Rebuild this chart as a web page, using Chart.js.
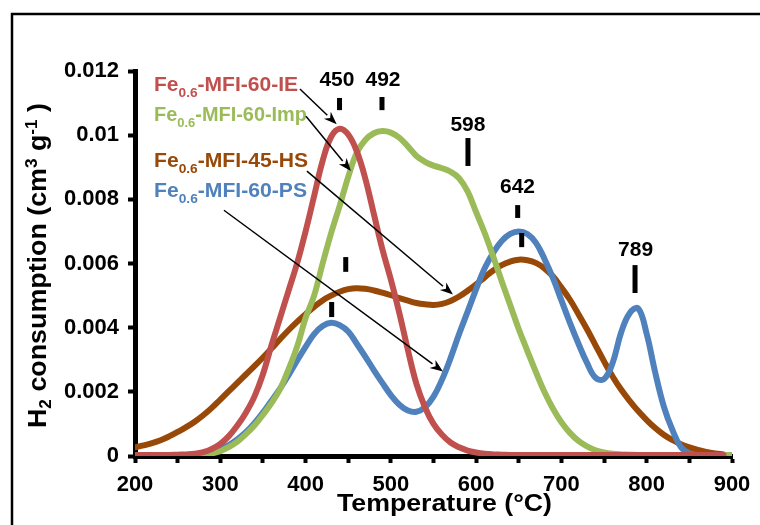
<!DOCTYPE html>
<html><head><meta charset="utf-8">
<script src="https://cdn.jsdelivr.net/npm/chart.js@4.4.1/dist/chart.umd.min.js"></script>
<style>html,body{margin:0;padding:0;background:#fff;}#wrap{width:760px;height:525px;}</style>
</head><body><div id="wrap"><canvas id="c" width="760" height="525"></canvas></div>
<script>
// Temperature (°C)
const temperatures = [200,210,220,230,240,250,260,270,280,290,300,310,320,330,340,350,360,370,380,390,400,410,420,430,440,450,460,470,480,490,500,510,520,530,540,550,560,570,580,590,600,610,620,630,640,650,660,670,680,690,700,710,720,730,740,750,760,770,780,790,800,810,820,830,840,850,860,870,880,890,900];
// H2 consumption (cm3 g-1)
const seriesIE = [0.00003,0.00003,0.00003,0.00003,0.00003,0.00004,0.00005,0.00007,0.00012,0.00022,0.00038,0.00062,0.00095,0.00135,0.00185,0.00255,0.00345,0.0043,0.00515,0.006,0.007,0.0081,0.0092,0.00995,0.0102,0.01002,0.0095,0.00865,0.00755,0.00645,0.0055,0.00445,0.0033,0.00225,0.00152,0.001,0.00066,0.00042,0.00027,0.00017,0.00011,0.00007,0.00005,0.00004,0.00003,0.00003,0.00003,0.00003,0.00003,0.00003,0.00003,0.00003,0.00003,0.00003,0.00003,0.00003,0.00003,0.00003,0.00003,0.00003,0.00003,0.00003,0.00003,0.00003,0.00003,0.00003,0.00003,0.00003,0.00003,0.00003,null];
const seriesImp = [0,0,0,0.000005,0.00001,0.000015,0.00002,0.00003,0.00005,0.00008,0.00015,0.00028,0.00045,0.00068,0.00095,0.00128,0.00165,0.00208,0.0027,0.0034,0.0043,0.005,0.006,0.00695,0.0078,0.0087,0.00945,0.00985,0.01006,0.01013,0.01008,0.00992,0.00965,0.00935,0.00917,0.00905,0.00897,0.00886,0.00866,0.00825,0.0076,0.00695,0.00622,0.00545,0.0047,0.00395,0.00328,0.00262,0.002,0.00148,0.00105,0.00072,0.00047,0.0003,0.00018,0.00011,0.00007,0.00005,0.00004,0.00003,0.00003,0.00003,0.00003,0.00003,0.00003,0.00003,0.00003,0.00003,0.00003,0.00003,0.00003];
const seriesHS = [0.00027,0.00033,0.0004,0.00049,0.00061,0.00075,0.0009,0.00107,0.00127,0.0015,0.00176,0.00202,0.00228,0.00254,0.0028,0.00307,0.00335,0.00364,0.00392,0.00418,0.00442,0.00465,0.00485,0.005,0.00512,0.0052,0.00523,0.00521,0.00516,0.00509,0.00501,0.00492,0.00484,0.00477,0.00473,0.00471,0.00474,0.00483,0.00497,0.00515,0.00535,0.00557,0.00578,0.00595,0.00606,0.00612,0.0061,0.00602,0.00585,0.0056,0.00525,0.00487,0.00442,0.00395,0.00345,0.00295,0.00248,0.00207,0.00172,0.0014,0.00112,0.00087,0.00066,0.0005,0.00037,0.00027,0.00019,0.00013,0.00008,0.00005,null];
const seriesPS = [0,0,0,0.000005,0.00001,0.000015,0.000025,0.00004,0.00007,0.00013,0.00022,0.00034,0.00052,0.00074,0.00102,0.00135,0.00172,0.0021,0.00252,0.00297,0.0034,0.0038,0.00405,0.00415,0.00408,0.00388,0.0035,0.0031,0.00268,0.00228,0.0019,0.0016,0.00142,0.00138,0.00152,0.00185,0.00238,0.00305,0.0038,0.0045,0.0052,0.00585,0.00633,0.0067,0.00692,0.007,0.00692,0.00665,0.00615,0.00555,0.00485,0.00415,0.0035,0.0029,0.00244,0.0024,0.0029,0.00385,0.00445,0.0046,0.0038,0.0026,0.00155,0.00082,0.00028,0.00008,0.00003,0.00002,0.00002,0.00002,0.00002];
const xTickValues = [200,300,400,500,600,700,800,900];
const yTickValues = [0,0.002,0.004,0.006,0.008,0.01,0.012];
const seriesNames = [['Fe','0.6','-MFI-60-IE'],['Fe','0.6','-MFI-60-Imp'],['Fe','0.6','-MFI-45-HS'],['Fe','0.6','-MFI-60-PS']];
const seriesColors = ['#C0504D','#9BBB59','#984807','#4F81BD'];
// peak labels: [temperature position, value position, text]
const peakLabels = [[436.8,0.01172,'450'],[490.8,0.01172,'492'],[590.4,0.01032,'598'],[648.5,0.00837,'642'],[786.9,0.00642,'789']];
// peak markers: [temperature, value top, value bottom]
const peakMarks = [[439.8,0.01116,0.01078],[489.6,0.01119,0.01078],[590.4,0.00991,0.00904],[648.7,0.00782,0.00742],[653.4,0.00695,0.00651],[786.3,0.00595,0.00508],[447.1,0.0062,0.00574],[430.6,0.0048,0.00433]];
// arrows from legend text to curves: [t0,v0,t1,v1]
const arrows = [[393.4,0.01144,436.5,0.01034],[400.5,0.01059,453.2,0.00888],[401.6,0.00888,572.8,0.00503],[304.3,0.00766,561.1,0.00263]];

const FONT = "'Liberation Sans', Arial, Helvetica, sans-serif";
const mk = arr => temperatures.map((t,i)=>({x:t,y:arr[i]}));
const seriesData = [seriesIE, seriesImp, seriesPS, seriesHS];
const seriesCol = [seriesColors[0], seriesColors[1], seriesColors[3], seriesColors[2]];

function drawSegs(ctx, segs, target) {
  let w = 0;
  segs.forEach(s => { ctx.font = 'bold ' + s[1] + 'px ' + FONT; w += ctx.measureText(s[0]).width; });
  const k = target ? target / w : 1;
  ctx.save();
  ctx.scale(k, 1);
  let x = 0;
  segs.forEach(s => { ctx.font = 'bold ' + s[1] + 'px ' + FONT; ctx.fillText(s[0], x, s[2] || 0); x += ctx.measureText(s[0]).width; });
  ctx.restore();
  return w * k;
}

const annot = {
  id: 'annot',
  afterDraw(chart) {
    const ctx = chart.ctx, xs = chart.scales.x, ys = chart.scales.y;
    ctx.save();
    ctx.strokeStyle = '#000'; ctx.lineWidth = 2.5;
    ctx.strokeRect(12, 14, 752, 520);
    ctx.fillStyle = '#000';
    ctx.textBaseline = 'alphabetic';
    ctx.save();
    ctx.translate(46, 428);
    ctx.rotate(-Math.PI/2);
    drawSegs(ctx, [['H',25,0],['2',16,5],[' consumption (cm',25,0],['3',16,-9],[' g',25,0],['-1',16,-9],[' )',25,0]], 325);
    ctx.restore();
    ctx.save();
    ctx.translate(337, 511);
    drawSegs(ctx, [['Temperature (°C)',24,0]], 215);
    ctx.restore();
    const legY = [91, 121, 167, 197], legW = [144, 153, 154, 153];
    seriesNames.forEach((n,i)=>{
      ctx.save();
      ctx.fillStyle = seriesColors[i];
      ctx.translate(154, legY[i]);
      drawSegs(ctx, [[n[0],20,0],[n[1],13,6],[n[2],20,0]], legW[i]);
      ctx.restore();
    });
    ctx.strokeStyle = '#000'; ctx.fillStyle = '#000'; ctx.lineWidth = 1.5;
    arrows.forEach(a=>{
      const x0 = xs.getPixelForValue(a[0]), y0 = ys.getPixelForValue(a[1]);
      const x1 = xs.getPixelForValue(a[2]), y1 = ys.getPixelForValue(a[3]);
      const ang = Math.atan2(y1-y0, x1-x0), L = 13, W = 5;
      const bx = x1 - L*Math.cos(ang), by = y1 - L*Math.sin(ang);
      ctx.beginPath(); ctx.moveTo(x0,y0); ctx.lineTo(bx,by); ctx.stroke();
      ctx.beginPath();
      ctx.moveTo(x1,y1);
      ctx.lineTo(bx + W*Math.sin(ang), by - W*Math.cos(ang));
      ctx.lineTo(x1 - 0.7*L*Math.cos(ang), y1 - 0.7*L*Math.sin(ang));
      ctx.lineTo(bx - W*Math.sin(ang), by + W*Math.cos(ang));
      ctx.closePath(); ctx.fill();
    });
    peakMarks.forEach(m=>{
      const x = xs.getPixelForValue(m[0]), yA = ys.getPixelForValue(m[1]), yB = ys.getPixelForValue(m[2]);
      ctx.fillRect(x-2.5, yA, 5, yB-yA);
    });
    ctx.font = 'bold 21px ' + FONT;
    ctx.textAlign = 'center'; ctx.textBaseline = 'middle';
    peakLabels.forEach(p=>{
      ctx.fillText(p[2], xs.getPixelForValue(p[0]), ys.getPixelForValue(p[1]));
    });
    ctx.restore();
  }
};

new Chart(document.getElementById('c'), {
  type: 'line',
  data: {
    datasets: seriesData.map((d,i)=>({
      data: mk(d), borderColor: seriesCol[i], backgroundColor: seriesCol[i],
      borderWidth: 6, pointRadius: 0, fill: false, tension: 0.4,
      spanGaps: false, borderCapStyle: 'round', borderJoinStyle: 'round'
    }))
  },
  options: {
    responsive: false, animation: false, devicePixelRatio: 1,
    layout: { padding: { left: 0, top: 71, right: 28, bottom: 0 } },
    plugins: { legend: { display: false }, tooltip: { enabled: false } },
    scales: {
      x: {
        type: 'linear', min: 200, max: 900,
        afterBuildTicks: s => { const t = []; for (let v = 200; v <= 900; v += 50) t.push({value: v}); s.ticks = t; },
        ticks: { autoSkip: false, maxRotation: 0, padding: 9, color: '#000',
          font: { family: FONT, size: 22, weight: 'bold' },
          callback: v => xTickValues.includes(v) ? String(v) : '' },
        grid: { drawOnChartArea: false, drawTicks: true, tickLength: 7, tickWidth: 4, color: '#000' },
        border: { display: true, color: '#000', width: 5 },
        afterFit: s => { s.height = 69; }
      },
      y: {
        type: 'linear', min: 0, max: 0.012,
        afterBuildTicks: s => { s.ticks = yTickValues.map(v => ({value: v})); },
        ticks: { padding: 9, color: '#000', font: { family: FONT, size: 22, weight: 'bold' },
          callback: v => v === 0 ? '0' : String(parseFloat(v.toFixed(3))) },
        grid: { drawOnChartArea: false, drawTicks: true, tickLength: 7, tickWidth: 4, color: '#000' },
        border: { display: true, color: '#000', width: 5 },
        afterFit: s => { s.width = 135; }
      }
    }
  },
  plugins: [annot]
});
</script>
</body></html>
